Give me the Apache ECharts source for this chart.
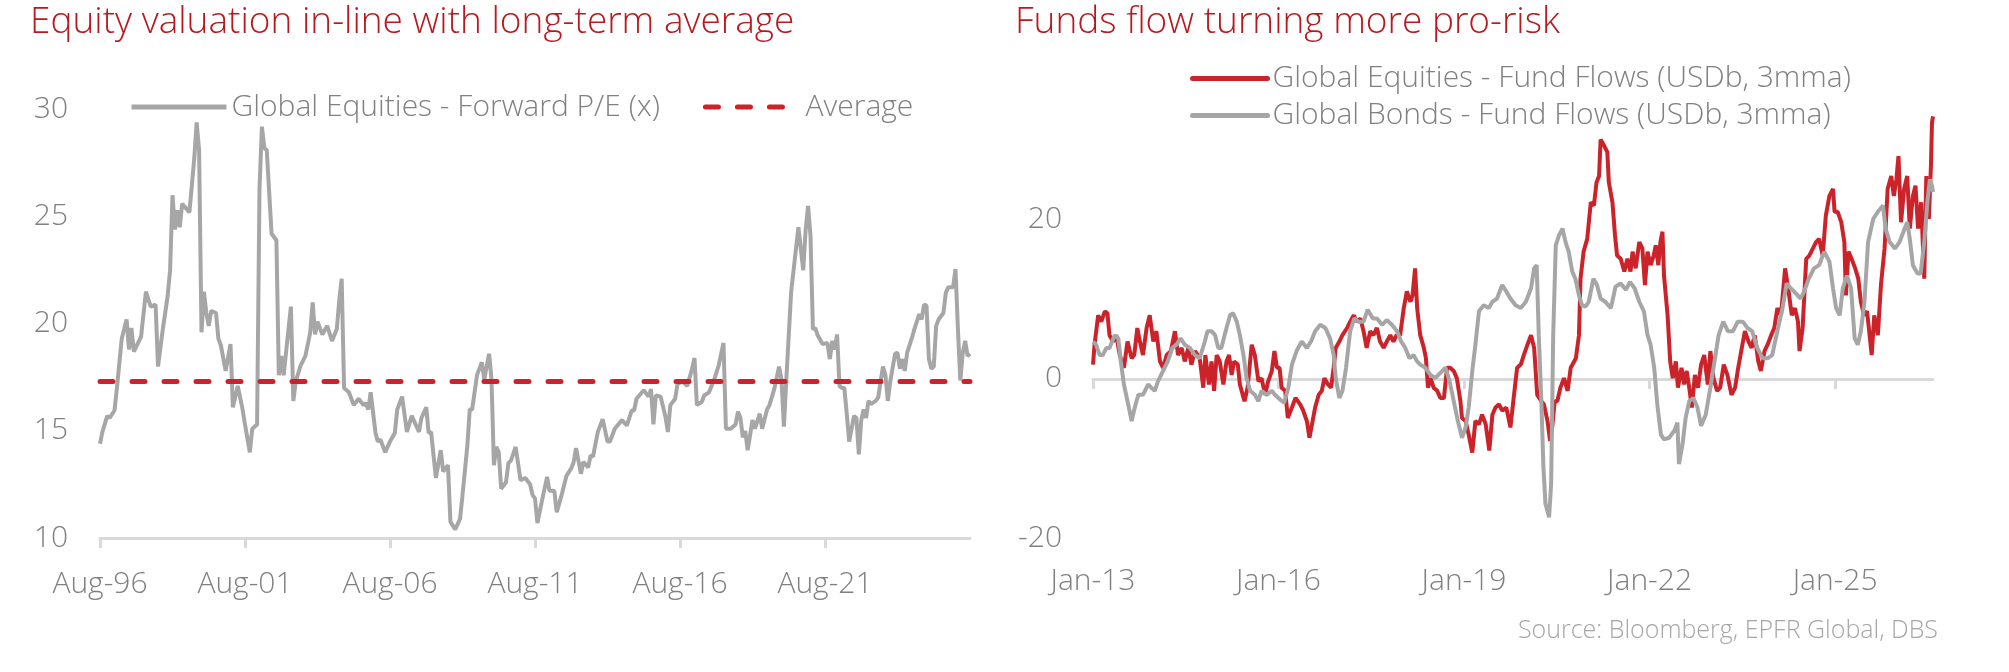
<!DOCTYPE html>
<html lang="en">
  <head>
    <meta charset="UTF-8" />
    <title>Equity valuation and fund flows</title>
    <script src="https://cdn.jsdelivr.net/npm/echarts@6/dist/echarts.min.js"></script>
    <style>
      html, body { margin: 0; padding: 0; background: #fff; }
      #chart { width: 2009px; height: 672px; }
    </style>
  </head>
  <body>
    <div id="chart"></div>
    <script>
      // left panel: months since Aug-96, forward P/E
      const peMonths = [0,1,3,4,6,7,9,11,12,13,14,17,19,21,23,24,26,28,29,30,31,32,33,34,37,39,40,41,42,43,44,45,46,48,49,50,52,54,55,57,59,60,62,63,65,66,67,68,69,71,73,74,75,76,78,79,80,81,83,85,87,88,89,90,92,94,96,98,99,100,101,103,105,107,109,110,111,112,114,115,116,118,120,122,123,125,127,129,132,133,135,136,137,139,141,142,144,145,147,149,150,152,153,154,156,158,159,161,162,163,164,165,166,168,169,170,172,174,176,178,179,180,181,183,185,186,188,189,191,193,195,196,197,199,200,202,203,204,206,208,210,211,213,216,218,220,221,222,225,227,228,229,230,232,234,235,236,238,239,241,243,245,246,247,249,250,252,254,256,258,259,261,263,264,265,266,267,268,270,271,273,274,276,277,279,281,282,283,284,286,287,289,291,292,293,294,295,296,297,299,301,302,303,304,305,306,307,308,309,310,312,313,314,315,316,317,318,319,321,322,323,324,325,326,327,329,330,331,332,333,334,336,337,339,340,341,342,343,344,345,346,347,349,350,351,353,354,355,356,357,358,359,360];
      const peValues = [14.4,14.95,15.7,15.6,15.95,17.0,19.3,20.2,18.8,19.8,18.7,19.4,21.5,20.8,20.9,18.0,19.75,21.3,22.5,26.0,24.4,25.3,24.5,25.6,25.2,27.7,29.4,28.1,19.6,21.5,20.5,19.9,20.6,20.5,19.3,19.0,17.8,19.05,16.1,17.1,16.0,15.3,14.0,15.1,15.3,26.3,29.2,28.2,28.1,24.2,23.9,17.6,18.5,17.6,19.75,20.8,16.4,17.3,18.05,18.5,19.6,21.0,19.5,20.1,19.5,19.9,19.2,19.75,21.1,22.1,17.0,16.8,16.2,16.5,16.2,16.3,16.0,16.8,14.9,14.5,14.6,14.0,14.5,14.9,16.0,16.6,14.95,15.7,14.95,15.6,16.1,14.9,14.95,12.8,14.1,13.1,13.4,10.75,10.4,10.9,12.0,14.3,16.0,16.0,17.6,18.2,17.4,18.6,17.4,13.4,14.25,14.0,12.3,12.6,13.5,13.6,14.25,12.7,12.8,12.5,12.0,11.85,10.7,11.8,12.85,12.2,12.2,11.2,12.0,12.9,13.25,13.55,14.2,13.0,13.55,13.3,13.85,13.8,14.95,15.55,14.5,14.5,15.1,15.5,15.25,15.95,15.95,16.5,16.9,16.6,16.95,15.3,16.65,16.6,15.65,14.95,16.2,16.5,17.2,17.3,17.1,17.9,18.4,16.2,16.35,16.65,16.8,17.35,18.05,19.1,15.1,15.1,15.3,15.9,15.6,14.7,15.0,14.1,15.5,15.1,15.8,15.1,16.0,16.2,16.95,18.0,17.4,15.2,17.4,21.5,22.5,24.5,22.5,24.4,25.5,24.1,19.75,19.8,19.45,19.05,19.1,18.35,19.2,18.8,19.5,17.1,17.0,17.0,15.8,14.5,15.7,15.6,13.9,15.5,16.0,15.6,16.4,16.25,16.4,16.55,17.3,18.0,17.6,16.4,17.3,18.6,18.65,17.9,18.35,17.8,18.65,19.35,19.75,20.45,20.2,20.9,20.85,18.35,17.9,18.0,19.9,20.2,20.5,21.45,21.7,21.7,22.55,19.75,17.35,18.65,19.2,18.5,18.6];
      const peAverage = 17.3;
      const peTickMonths = [0, 60, 120, 180, 240, 300];
      const peTickLabels = ['Aug-96', 'Aug-01', 'Aug-06', 'Aug-11', 'Aug-16', 'Aug-21'];

      // right panel: months since Jan-13, USDb 3mma
      const eqMonths = [0,0.3,1.0,1.6,2.3,2.8,3.2,3.9,4.5,5.2,6.0,6.7,7.5,8.0,8.6,9.1,9.7,10.4,11.0,11.7,12.3,13.0,13.6,14.3,15.1,15.9,16.5,17.2,17.8,18.5,19.1,19.8,20.7,21.4,21.8,22.5,23.0,23.5,24.0,24.6,25.3,25.9,26.4,26.9,27.4,28.1,28.5,29.4,30.0,30.8,31.4,32.1,32.7,33.4,34.0,34.7,35.2,35.7,36.2,36.6,37.3,37.8,38.6,39.3,40.2,40.8,41.5,42.0,42.5,43.1,43.8,44.4,44.9,45.6,46.2,46.7,47.1,47.8,48.4,49.3,49.9,50.6,51.2,51.9,52.5,53.1,53.8,54.4,55.1,55.7,56.4,57.0,57.7,58.3,58.9,59.6,60.3,60.9,61.6,62.0,62.5,62.9,63.5,64.2,64.6,65.0,65.5,66.1,66.8,67.4,68.1,68.7,69.3,70.0,70.6,71.3,71.6,72.3,72.9,73.6,74.2,74.9,75.5,76.2,76.9,77.5,78.1,78.8,79.4,80.2,81.0,81.7,82.3,83.0,83.6,84.3,85.0,85.6,86.2,87.0,87.5,88.2,88.7,89.1,89.6,90.1,90.7,91.4,92.1,92.7,93.7,94.3,94.6,95.2,95.9,96.6,97.2,97.7,98.2,98.5,99.2,99.8,100.1,100.8,101.3,101.7,102.4,103.1,103.7,104.3,104.7,105.3,106.0,106.6,107.1,107.6,108.2,108.8,109.2,109.7,110.1,110.5,110.8,111.5,112.0,112.5,113.1,113.5,114.2,114.7,115.2,115.7,116.2,116.8,117.4,118.0,118.6,119.3,119.8,120.4,121.1,121.7,122.4,123.1,123.9,124.6,125.2,125.9,126.5,127.2,127.8,128.4,129.1,129.6,130.3,130.9,131.6,132.2,132.8,133.5,134.3,134.9,135.6,136.2,136.8,137.1,137.7,138.4,139.0,139.7,140.3,140.9,141.6,142.2,142.9,143.6,143.9,144.5,145.2,145.8,146.1,146.6,147.2,147.9,148.5,149.0,149.6,150.2,150.7,151.1,151.6,152.3,152.9,153.6,154.2,154.9,155.4,155.9,156.3,156.8,157.4,158.0,158.5,159.1,159.6,160.1,160.7,161.3,161.7,162.2,162.6,162.8,163.0];
      const eqValues = [1.8,4.3,8.0,7.2,8.5,8.25,5.5,4.7,5.5,3.0,1.4,4.7,2.6,3.0,6.4,4.7,3.0,6.4,8.0,4.7,6.0,2.2,1.4,3.0,3.5,6.0,3.0,3.9,2.2,3.9,1.8,3.5,2.6,-1.1,3.0,-0.7,2.2,-1.5,3.0,2.2,-0.7,2.2,3.0,0.5,2.2,1.8,-0.7,-2.8,-1.1,4.3,3.0,-0.3,0.1,-2.0,-0.3,1.0,3.5,1.4,1.4,-1.1,-1.5,-4.9,-3.6,-2.4,-3.2,-4.0,-5.3,-7.4,-5.7,-3.6,-2.0,-1.5,0.1,-0.7,-1.1,1.4,3.9,4.7,5.5,6.4,7.2,8.0,7.2,7.6,6.0,3.9,6.0,5.5,6.4,4.7,3.9,4.7,5.5,4.7,5.5,5.5,8.9,11.0,9.7,10.5,13.9,8.9,5.5,3.9,2.6,-1.1,0.1,-1.1,-1.5,-2.4,-2.4,1.4,1.4,1.0,0.1,-2.8,-4.9,-5.3,-7.0,-9.25,-5.3,-5.7,-4.5,-5.7,-9.0,-4.5,-3.6,-3.2,-4.0,-3.6,-6.1,-2.0,1.4,1.8,3.0,4.3,5.5,3.9,-2.0,-2.8,-3.2,-5.3,-7.8,-6.1,-2.8,-2.8,-1.1,0.1,-1.5,1.4,2.6,5.5,12.6,16.0,17.6,22.2,21.8,24.7,25.5,30.1,29.3,28.5,24.7,22.2,18.0,15.5,15.1,13.5,15.1,13.5,16.0,13.9,17.2,16.4,11.8,16.0,14.3,15.5,16.8,14.3,17.2,18.5,13.0,8.0,2.2,0.1,2.2,-1.1,1.4,-0.7,1.0,-1.1,-3.6,0.5,-1.1,1.8,3.0,-0.7,3.5,0.1,-1.5,-1.1,1.8,0.5,-2.0,-1.1,1.4,3.9,6.0,4.7,3.9,5.5,2.2,1.0,3.5,4.3,5.5,6.4,8.9,8.0,13.9,11.4,8.0,8.9,7.2,3.5,6.4,15.1,15.5,16.4,17.2,17.6,15.5,20.5,23.0,23.9,21.0,21.0,19.7,17.2,10.5,16.0,15.1,13.9,12.6,9.7,8.0,8.5,5.5,3.0,8.0,5.5,11.8,16.4,23.9,25.5,23.0,25.1,28.0,19.7,23.9,25.5,18.9,23.0,24.3,18.9,22.2,12.6,25.5,20.1,26.8,32.2,33.0];
      const bondMonths = [0,0.6,1.3,1.9,2.6,3.2,4.2,4.9,5.4,6.0,6.7,7.5,8.1,8.8,9.7,10.7,11.3,12.0,12.6,13.6,14.5,15.4,16.2,17.0,17.8,18.8,19.8,20.7,21.7,22.2,23.0,23.7,24.3,24.9,25.9,26.6,27.2,27.9,28.5,29.2,29.8,30.5,31.4,32.1,32.7,33.7,34.7,35.3,36.3,37.1,37.9,38.6,39.5,40.5,41.5,42.3,43.1,44.1,45.1,46.0,46.7,47.1,47.8,48.4,49.1,49.9,50.7,51.5,52.5,53.3,54.3,55.1,56.1,57.0,58.0,59.0,59.8,60.6,61.4,62.2,62.9,63.5,64.5,65.5,66.4,67.4,68.4,69.2,70.0,70.8,71.6,72.3,72.9,73.6,74.2,74.9,75.8,76.8,77.5,78.4,79.4,80.2,81.0,82.0,83.0,84.0,85.0,85.6,86.1,86.5,87.0,87.4,87.8,88.5,88.9,89.3,89.8,90.4,91.1,91.7,92.3,93.0,93.6,94.3,94.9,95.6,96.2,97.1,97.8,98.5,99.4,100.5,101.4,102.4,103.4,104.2,105.1,106.0,106.9,107.6,108.2,108.9,109.5,110.2,110.8,111.8,112.8,113.4,113.7,114.4,115.0,115.7,116.5,117.3,118.0,118.9,119.8,120.6,121.4,122.3,123.2,124.2,125.1,126.1,127.0,127.9,128.9,129.9,130.9,131.8,132.8,133.8,134.6,135.4,136.4,137.3,138.0,138.9,139.9,140.9,141.9,142.9,143.6,144.2,144.9,145.5,146.3,147.1,147.8,148.4,149.0,149.7,150.4,151.4,152.3,153.3,153.8,154.6,155.6,156.5,157.5,158.0,158.5,159.1,160.0,160.6,161.3,161.9,162.4,162.8,163.0];
      const bondValues = [4.7,4.3,3.0,3.0,3.9,3.9,5.5,5.1,2.2,-0.7,-2.8,-5.3,-3.6,-2.0,-2.0,-0.7,-1.1,-1.5,-0.3,1.0,2.2,3.9,4.3,5.1,4.3,3.9,3.0,2.6,4.7,6.0,6.0,5.5,3.9,3.9,6.4,8.0,8.25,7.2,5.5,3.0,0.1,-1.5,-2.0,-2.8,-1.5,-2.0,-1.5,-2.0,-2.6,-3.0,-1.1,1.8,3.5,4.7,3.9,4.7,6.0,6.8,6.4,5.1,3.0,0.1,-2.4,-1.5,1.4,6.0,7.6,7.2,7.2,8.7,7.6,7.6,6.8,7.4,6.8,6.0,4.7,3.9,2.6,3.0,2.2,1.8,1.4,0.5,0.1,0.75,1.4,-0.3,-2.8,-5.3,-7.4,-6.1,-3.6,1.0,4.3,8.5,9.25,8.9,9.7,10.1,11.8,11.0,10.1,9.25,8.9,9.7,11.4,13.9,14.3,5.5,-2.8,-11.1,-15.7,-17.4,-13.2,5.5,16.8,18.0,18.9,17.2,16.0,13.5,12.6,10.5,9.25,9.1,9.7,12.6,11.8,10.1,9.7,8.9,11.6,12.0,11.2,12.2,11.4,9.7,8.5,5.5,4.3,1.4,-3.2,-7.0,-7.6,-7.4,-6.5,-5.5,-10.7,-8.2,-4.9,-2.8,-2.4,-3.6,-5.9,-4.5,-1.1,2.2,5.5,7.2,6.0,6.0,7.2,7.2,6.4,6.0,3.9,2.6,2.6,3.0,6.0,8.9,12.0,11.4,10.75,10.1,11.0,12.6,13.9,14.3,16.0,14.75,11.4,8.9,8.0,11.4,13.0,11.4,5.1,4.3,6.0,9.7,17.2,20.1,21.0,21.8,18.9,17.2,16.4,17.2,18.9,19.7,17.6,14.3,13.25,13.25,17.2,22.2,25.1,24.3,23.5];
      const flowTickMonths = [0, 36, 72, 108, 144];
      const flowTickLabels = ['Jan-13', 'Jan-16', 'Jan-19', 'Jan-22', 'Jan-25'];

      const RED = '#cc2229';
      const GREY = '#a6a6a6';
      const AXIS = '#d9d9d9';
      const TEXT = '#808080';
      const FONT = '"Open Sans", sans-serif';

      const zip = (xs, ys) => xs.map((x, i) => [x, ys[i]]);
      const labelFor = (ticks, labels) => (v) => {
        const i = ticks.indexOf(v);
        return i < 0 ? '' : labels[i];
      };

      const chart = echarts.init(document.getElementById('chart'), null, { renderer: 'canvas' });

      const titleStyle = { fontFamily: FONT, fontSize: 37, fontWeight: 300, color: '#b8181f' };
      const labelStyle = { fontFamily: FONT, fontSize: 30, fontWeight: 300, color: TEXT };

      chart.setOption({
        animation: false,
        textStyle: { fontFamily: FONT },
        title: [
          { text: 'Equity valuation in-line with long-term average', left: 30, top: 4, padding: 0, textStyle: titleStyle },
          { text: 'Funds flow turning more pro-risk', left: 1015, top: 4, padding: 0, textStyle: titleStyle }
        ],
        // itemHeight 1 keeps the legend icon to a bare line (the symbol shrinks to nothing)
        legend: [
          {
            data: ['Global Equities - Forward P/E (x)', 'Average'],
            left: 129, top: 89, padding: 0,
            itemWidth: 95, itemHeight: 1, itemGap: 43,
            lineStyle: { width: 5 },
            textStyle: Object.assign({ lineHeight: 36 }, labelStyle)
          },
          {
            data: ['Global Equities - Fund Flows (USDb, 3mma)', 'Global Bonds - Fund Flows (USDb, 3mma)'],
            orient: 'vertical',
            left: 1190, top: 60, padding: 0,
            itemWidth: 75, itemHeight: 1, itemGap: 0,
            lineStyle: { width: 5, cap: 'round' },
            textStyle: Object.assign({ lineHeight: 37 }, labelStyle)
          }
        ],
        grid: [
          { left: 100, top: 109.5, width: 870, height: 428.5, containLabel: false },
          { left: 1093, top: 100.5, width: 840, height: 437.5, containLabel: false }
        ],
        xAxis: [
          {
            gridIndex: 0, type: 'value', min: 0, max: 360,
            axisLine: { lineStyle: { color: AXIS, width: 3 } },
            axisTick: { show: true, length: 10, customValues: peTickMonths, lineStyle: { color: AXIS, width: 3 } },
            axisLabel: Object.assign({ margin: 31, customValues: peTickMonths, formatter: labelFor(peTickMonths, peTickLabels) }, labelStyle),
            splitLine: { show: false }
          },
          {
            gridIndex: 1, type: 'value', min: 0, max: 163,
            axisLine: { onZero: true, lineStyle: { color: AXIS, width: 3 } },
            axisTick: { show: true, length: 10, customValues: flowTickMonths, lineStyle: { color: AXIS, width: 3 } },
            axisLabel: { show: false },
            splitLine: { show: false }
          },
          {
            gridIndex: 1, type: 'value', min: 0, max: 163, position: 'bottom',
            axisLine: { show: false, onZero: false },
            axisTick: { show: false },
            axisLabel: Object.assign({ margin: 28, customValues: flowTickMonths, formatter: labelFor(flowTickMonths, flowTickLabels) }, labelStyle),
            splitLine: { show: false }
          }
        ],
        yAxis: [
          {
            gridIndex: 0, type: 'value', min: 10, max: 30, interval: 5,
            axisLine: { show: false }, axisTick: { show: false },
            axisLabel: Object.assign({ margin: 32 }, labelStyle),
            splitLine: { show: false }
          },
          {
            gridIndex: 1, type: 'value', min: -20, max: 35,
            axisLine: { show: false }, axisTick: { show: false },
            axisLabel: Object.assign({ margin: 31, customValues: [-20, 0, 20] }, labelStyle),
            splitLine: { show: false }
          }
        ],
        series: [
          {
            name: 'Global Equities - Forward P/E (x)', type: 'line',
            xAxisIndex: 0, yAxisIndex: 0, symbol: 'none', z: 2,
            lineStyle: { color: GREY, width: 4 }, itemStyle: { color: GREY },
            data: zip(peMonths, peValues)
          },
          {
            name: 'Average', type: 'line',
            xAxisIndex: 0, yAxisIndex: 0, symbol: 'none', z: 3,
            lineStyle: { color: RED, width: 5, type: [13, 19], cap: 'round' }, itemStyle: { color: RED },
            data: [[peMonths[0], peAverage], [peMonths[peMonths.length - 1], peAverage]]
          },
          {
            name: 'Global Equities - Fund Flows (USDb, 3mma)', type: 'line',
            xAxisIndex: 1, yAxisIndex: 1, symbol: 'none', z: 2,
            lineStyle: { color: RED, width: 4 }, itemStyle: { color: RED },
            data: zip(eqMonths, eqValues)
          },
          {
            name: 'Global Bonds - Fund Flows (USDb, 3mma)', type: 'line',
            xAxisIndex: 1, yAxisIndex: 1, symbol: 'none', z: 3,
            lineStyle: { color: GREY, width: 4 }, itemStyle: { color: GREY },
            data: zip(bondMonths, bondValues)
          }
        ],
        graphic: [
          {
            type: 'text', right: 2009 - 1938, top: 618,
            style: { text: 'Source: Bloomberg, EPFR Global, DBS', fill: '#a6a6a6', font: '300 25px "Open Sans", sans-serif' }
          }
        ]
      });
    </script>
  </body>
</html>
